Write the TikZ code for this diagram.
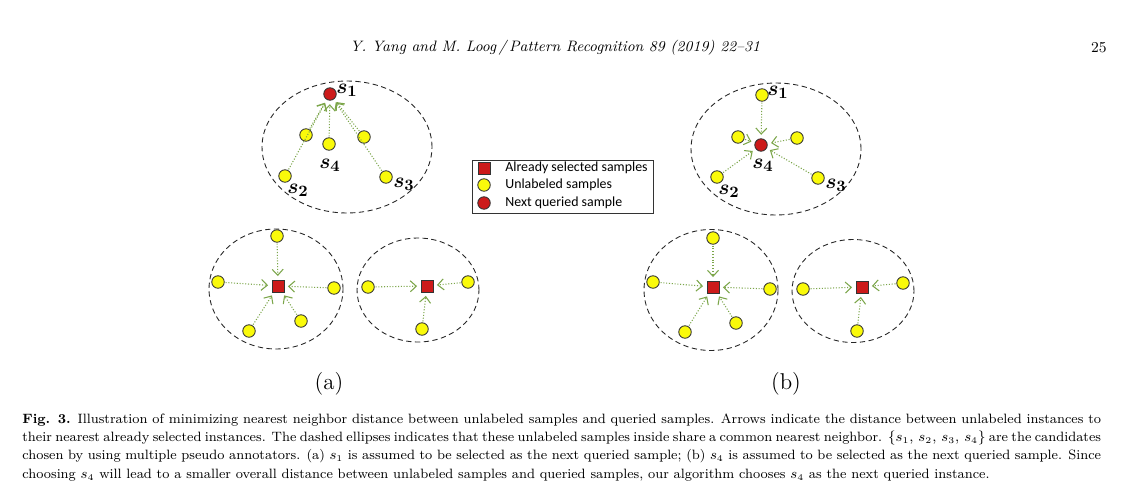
\documentclass[tikz,border=0pt]{standalone}
\usepackage{fontspec}
\usepackage{amsmath}
\newfontfamily\legendfont{Carlito}
\usetikzlibrary{shapes.geometric,arrows.meta,positioning}
\definecolor{sampleYellow}{RGB}{250,250,10}
\definecolor{queryRed}{RGB}{204,26,26}
\definecolor{distGreen}{RGB}{124,166,74}
\newcommand{\capline}[1]{\makebox[21.58cm][s]{#1}}
\tikzset{
  unlabeled/.style={circle, draw=black!80, fill=sampleYellow, line width=0.5pt,
    minimum size=0.25cm, inner sep=0pt},
  queried/.style={unlabeled, fill=queryRed},
  selected/.style={rectangle, draw=black!80, fill=queryRed, line width=0.5pt,
    minimum size=0.24cm, inner sep=0pt},
  groupellipse/.style={ellipse, draw=black!85, dash pattern=on 3pt off 2pt, line width=0.5pt,
    inner sep=0pt},
  distarrow/.style={-{Straight Barb[length=1.2mm,width=2.2mm]}, draw=distGreen,
    densely dotted, line width=0.6pt, shorten >=2pt, shorten <=0.5pt},
  samplelabel/.style={font=\fontsize{12.5}{14}\selectfont\boldmath, inner sep=0pt},
  legendtext/.style={font=\legendfont\fontsize{7.9}{9}\selectfont, anchor=west, inner sep=0pt},
  sublabel/.style={font=\fontsize{13}{15}\selectfont, inner sep=0pt},
}

\begin{document}
\begin{tikzpicture}[x=0.02cm, y=-0.02cm]
  \useasboundingbox[fill=white] (0,0) rectangle (1121,500);

  % running head
  \node[font=\fontsize{8.6}{10}\selectfont\itshape, inner sep=0pt] (head) at (555,48)
    {Y. Yang and M. Loog\,/\,Pattern Recognition 89 (2019) 22--31};
  \node[font=\fontsize{8.6}{10}\selectfont, anchor=east, inner sep=0pt] (pageno) at (1107,48) {25};

  % (a) candidate group, s1 queried
  \node[groupellipse, minimum width=3.4cm, minimum height=2.64cm] (aGroupTop) at (347,147) {};
  \node[queried] (aS1) at (330,94) {};
  \node[unlabeled] (aUl) at (306,135) {};
  \node[unlabeled] (aS4) at (329,144) {};
  \node[unlabeled] (aUr) at (364,137) {};
  \node[unlabeled] (aS2) at (285,176) {};
  \node[unlabeled] (aS3) at (386,177) {};
  \node[samplelabel] at (347,90) {$s_1$};
  \node[samplelabel] at (330,165) {$s_4$};
  \node[samplelabel] at (298,190) {$s_2$};
  \node[samplelabel] at (404,184) {$s_3$};
  \draw[distarrow] (aS2) -- (aS1);
  \draw[distarrow] (aUl) -- (aS1);
  \draw[distarrow] (aS4) -- (aS1);
  \draw[distarrow] (aUr) -- (aS1);
  \draw[distarrow] (aS3) -- (aS1);

  % (a) groups around already selected samples
  \node[groupellipse, minimum width=2.68cm, minimum height=2.4cm] (aGroupL) at (276,289) {};
  \node[selected] (aSelL) at (278,286) {};
  \node[unlabeled] (aTopL) at (277,236) {};
  \node[unlabeled] (aLeftL) at (218,282) {};
  \node[unlabeled] (aRightL) at (334,288) {};
  \node[unlabeled] (aBlL) at (249,331) {};
  \node[unlabeled] (aBrL) at (301,321) {};
  \draw[distarrow] (aTopL) -- (aSelL);
  \draw[distarrow] (aLeftL) -- (aSelL);
  \draw[distarrow] (aRightL) -- (aSelL);
  \draw[distarrow] (aBlL) -- (aSelL);
  \draw[distarrow] (aBrL) -- (aSelL);

  \node[groupellipse, minimum width=2.44cm, minimum height=2.08cm] (aGroupR) at (418,290) {};
  \node[selected] (aSelR) at (427,286) {};
  \node[unlabeled] (aLeftR) at (368,287) {};
  \node[unlabeled] (aRightR) at (468,282) {};
  \node[unlabeled] (aBotR) at (422,329) {};
  \draw[distarrow] (aLeftR) -- (aSelR);
  \draw[distarrow] (aRightR) -- (aSelR);
  \draw[distarrow] (aBotR) -- (aSelR);

  % (b) candidate group, s4 queried
  \node[groupellipse, minimum width=3.4cm, minimum height=2.64cm] (bGroupTop) at (776,149) {};
  \node[unlabeled] (bS1) at (762,95) {};
  \node[unlabeled] (bUl) at (738,137) {};
  \node[queried] (bS4) at (761,145) {};
  \node[unlabeled] (bUr) at (797,138) {};
  \node[unlabeled] (bS2) at (717,177) {};
  \node[unlabeled] (bS3) at (818,178) {};
  \node[samplelabel] at (778,92) {$s_1$};
  \node[samplelabel] at (763,165) {$s_4$};
  \node[samplelabel] at (729,191) {$s_2$};
  \node[samplelabel] at (836,185) {$s_3$};
  \draw[distarrow] (bS1) -- (bS4);
  \draw[distarrow] (bUl) -- (bS4);
  \draw[distarrow] (bUr) -- (bS4);
  \draw[distarrow] (bS2) -- (bS4);
  \draw[distarrow] (bS3) -- (bS4);

  % (b) groups around already selected samples
  \node[groupellipse, minimum width=2.68cm, minimum height=2.42cm] (bGroupL) at (711,290) {};
  \node[selected] (bSelL) at (713,287) {};
  \node[unlabeled] (bTopL) at (713,238) {};
  \node[unlabeled] (bLeftL) at (653,282) {};
  \node[unlabeled] (bRightL) at (770,289) {};
  \node[unlabeled] (bBlL) at (685,332) {};
  \node[unlabeled] (bBrL) at (736,323) {};
  \draw[distarrow] (bTopL) -- (bSelL);
  \draw[distarrow] (bLeftL) -- (bSelL);
  \draw[distarrow] (bRightL) -- (bSelL);
  \draw[distarrow] (bBlL) -- (bSelL);
  \draw[distarrow] (bBrL) -- (bSelL);

  \node[groupellipse, minimum width=2.44cm, minimum height=2.06cm] (bGroupR) at (853,291) {};
  \node[selected] (bSelR) at (862,287) {};
  \node[unlabeled] (bLeftR) at (803,289) {};
  \node[unlabeled] (bRightR) at (903,283) {};
  \node[unlabeled] (bBotR) at (857,331) {};
  \draw[distarrow] (bLeftR) -- (bSelR);
  \draw[distarrow] (bRightR) -- (bSelR);
  \draw[distarrow] (bBotR) -- (bSelR);

  % legend
  \node[draw=black!80, line width=0.5pt, minimum width=3.62cm, minimum height=1.06cm,
    inner sep=0pt] (legend) at (562.5,186.5) {};
  \node[selected] (legSel) at (484,168) {};
  \node[unlabeled] (legUnl) at (484,185) {};
  \node[queried] (legQry) at (484,203) {};
  \node[legendtext] at (505,168) {Already selected samples};
  \node[legendtext] at (505,185) {Unlabeled samples};
  \node[legendtext] at (505,203) {Next queried sample};

  % subfigure labels
  \node[sublabel] (capA) at (329,384) {(a)};
  \node[sublabel] (capB) at (786,384) {(b)};

  % caption
  \node[anchor=north west, inner sep=0pt, align=left,
    font=\fontsize{7.7}{10.5}\selectfont] (caption) at (22,413)
    {\capline{\textbf{Fig. 3.}\enspace Illustration of minimizing nearest neighbor distance between unlabeled samples and queried samples. Arrows indicate the distance between unlabeled instances to}\\
    \capline{their nearest already selected instances. The dashed ellipses indicates that these unlabeled samples inside share a common nearest neighbor. $\{s_1,\,s_2,\,s_3,\,s_4\}$ are the candidates}\\
    \capline{chosen by using multiple pseudo annotators. (a) $s_1$ is assumed to be selected as the next queried sample; (b) $s_4$ is assumed to be selected as the next queried sample. Since}\\
    choosing $s_4$ will lead to a smaller overall distance between unlabeled samples and queried samples, our algorithm chooses $s_4$ as the next queried instance.};
\end{tikzpicture}
\end{document}
